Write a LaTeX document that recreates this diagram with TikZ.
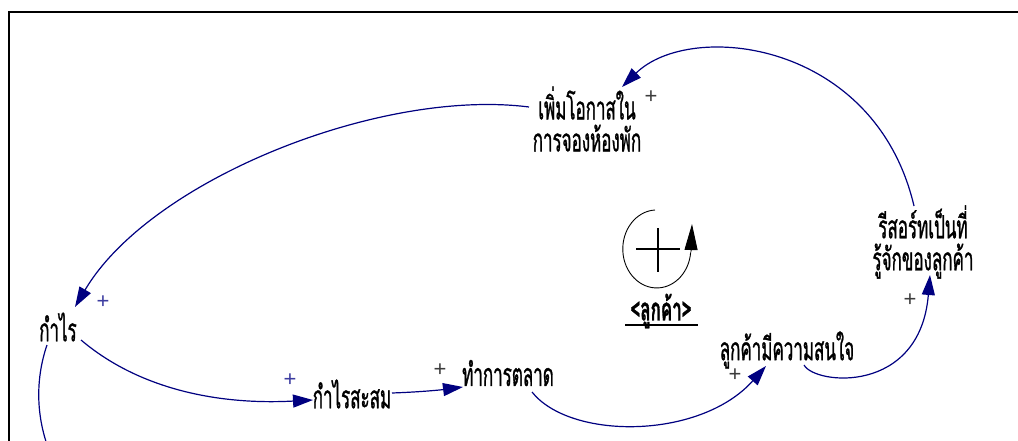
\documentclass[tikz,border=0pt]{standalone}
\usepackage{fontspec}
\setmainfont{Liberation Sans}
\newfontfamily\thaifont[Script=Thai,FakeStretch=0.53,FakeBold=0.9]{Loma}
\usetikzlibrary{arrows.meta}
\definecolor{navy}{RGB}{0,0,128}
\definecolor{polblue}{RGB}{60,60,160}
\definecolor{polgray}{RGB}{60,60,60}
\begin{document}
\begin{tikzpicture}[x=1pt,y=-1pt,
  lbl/.style={font=\thaifont\fontsize{32}{32}\selectfont, inner sep=0pt, align=center},
  link/.style={draw=navy, line width=1.2pt, -{Triangle[length=20pt,width=13pt]}},
  pol/.style={font=\fontsize{22}{22}\selectfont, inner sep=0pt},
]
\useasboundingbox (0,0) rectangle (1018,441);
\clip (0,0) rectangle (1018,441);
% frame
\draw[line width=2pt] (9,445) -- (9,12) -- (1020,12);

% variables
\node[lbl] (opp) at (587,119) {เพิ่มโอกาสใน\\การจองห้องพัก};
\node[lbl] (res) at (923,242) {รีสอร์ทเป็นที่\\รู้จักของลูกค้า};
\node[lbl] (prof) at (58,327) {กำไร};
\node[lbl] (acc) at (352,394) {กำไรสะสม};
\node[lbl] (mkt) at (508,373) {ทำการตลาด};
\node[lbl] (int) at (787,350) {ลูกค้ามีความสนใจ};
\node[lbl,font=\thaifont\bfseries\fontsize{32}{32}\selectfont] (cust) at (661,311) {<ลูกค้า>};
\draw[line width=2pt] (625,325) -- (698,325);
\coordinate (below) at (58,470);

% links
\draw[link] ([shift={(-58,-12)}]opp.center) .. controls (380,88) and (150,180) .. ([shift={(17,-20)}]prof.center);
\draw[link] ([shift={(-9,-36)}]res.center) .. controls (875,40) and (690,20) .. ([shift={(35,-32)}]opp.center);
\draw[draw=navy, line width=1.2pt] ([shift={(-11,18)}]prof.center) .. controls (35,380) and (34,425) .. (below);
\draw[link] ([shift={(23,13)}]prof.center) .. controls (140,390) and (220,405) .. ([shift={(-39,6)}]acc.center);
\draw[link] ([shift={(40,-1)}]acc.center) .. controls (420,392) and (440,390) .. ([shift={(-45,14)}]mkt.center);
\draw[link] ([shift={(24,19)}]mkt.center) .. controls (570,440) and (700,440) .. ([shift={(-21,16)}]int.center);
\draw[link] ([shift={(17,15)}]int.center) .. controls (815,385) and (920,395) .. ([shift={(7,33)}]res.center);

% polarities
\node[pol,text=polgray] (p1) at (651,97) {+};
\node[pol,text=polgray] (p2) at (910,300) {+};
\node[pol,text=polblue] (p3) at (103,302) {+};
\node[pol,text=polblue] (p4) at (290,380) {+};
\node[pol,text=polgray] (p5) at (440,370) {+};
\node[pol,text=polgray] (p6) at (735,375) {+};

% loop symbol
\draw[line width=0.9pt] (655,210) arc[start angle=267, end angle=5, x radius=34, y radius=39];
\draw[line width=0.9pt, -{Triangle[length=26pt,width=13pt]}] (691,252) -- (692,224);
\draw[line width=2.2pt] (636,249) -- (680,249);
\draw[line width=2.2pt] (658,228) -- (658,272);
\end{tikzpicture}
\end{document}
